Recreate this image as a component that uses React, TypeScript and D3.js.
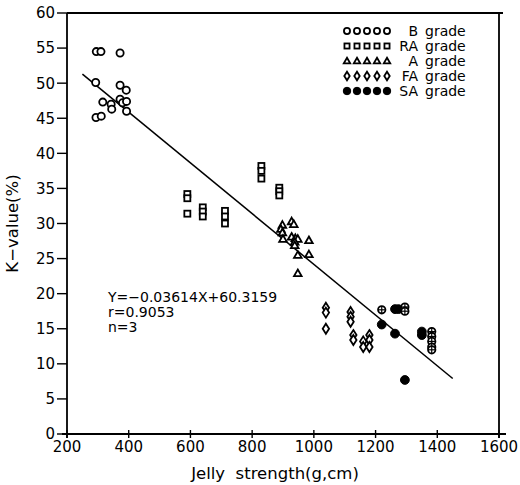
import React from "react";
import * as d3 from "d3";

const xTicks = [200, 400, 600, 800, 1000, 1200, 1400, 1600];
const yTicks = [0, 5, 10, 15, 20, 25, 30, 35, 40, 45, 50, 55, 60];

const bGrade: [number, number][] = [
  [295, 54.5], [310, 54.5], [372, 54.3], [293, 50.1], [372, 49.7], [392, 49.0],
  [316, 47.3], [343, 47.0], [345, 46.3], [372, 47.7], [380, 47.2], [393, 47.4],
  [393, 46.0], [294, 45.1], [311, 45.3],
];
const raGrade: [number, number][] = [
  [590, 34.2], [590, 33.6], [590, 31.4], [640, 32.3], [640, 31.7], [640, 31.0],
  [712, 31.8], [712, 31.0], [712, 30.0], [830, 38.2], [830, 37.5], [830, 36.4],
  [888, 35.1], [888, 34.6], [888, 34.0],
];
const aGrade: [number, number][] = [
  [928, 30.3], [935, 29.9], [898, 29.8], [893, 29.2], [898, 28.7], [928, 28.1],
  [940, 27.9], [948, 27.8], [938, 27.4], [938, 26.9], [984, 27.6], [948, 25.5],
  [984, 25.6], [948, 22.9], [900, 27.8],
];
const faGrade: [number, number][] = [
  [1039, 18.0], [1039, 17.3], [1039, 15.0], [1119, 17.4], [1119, 16.7], [1119, 16.0],
  [1128, 14.1], [1128, 13.4], [1160, 13.2], [1160, 12.4], [1180, 14.1], [1180, 13.4],
  [1180, 12.4],
];
const saGrade: [number, number][] = [
  [1263, 17.8], [1274, 17.8], [1220, 15.6], [1263, 14.3], [1350, 14.6], [1350, 14.1],
  [1295, 7.7],
];
const saCross: [number, number][] = [
  [1220, 17.7], [1295, 18.1], [1295, 17.5], [1382, 14.6], [1382, 13.9], [1382, 13.2],
  [1382, 12.4], [1382, 12.0],
];

const legendItems = [
  { name: "B", kind: "circle" },
  { name: "RA", kind: "square" },
  { name: "A", kind: "triangle" },
  { name: "FA", kind: "diamond" },
  { name: "SA", kind: "filled" },
];

const slope = -0.03614;
const intercept = 60.3159;
const lineRange = [250, 1450];
const eqLines = ["Y=\u22120.03614X+60.3159", "r=0.9053", "n=3"];

const FONT = "'DejaVu Sans', sans-serif";

function Marker({ kind, x, y, s = 1 }: { kind: string; x: number; y: number; s?: number }) {
  const sw = 1.8;
  if (kind === "circle")
    return <circle cx={x} cy={y} r={3.6 * s} fill="white" stroke="black" strokeWidth={sw} />;
  if (kind === "square") {
    const h = 3 * s;
    return <rect x={x - h} y={y - h} width={2 * h} height={2 * h} fill="white" stroke="black" strokeWidth={sw} />;
  }
  if (kind === "triangle") {
    const h = 3.8 * s;
    return (
      <path d={`M${x},${y - h}L${x + h},${y + h * 0.75}L${x - h},${y + h * 0.75}Z`} fill="white" stroke="black" strokeWidth={sw} />
    );
  }
  if (kind === "diamond") {
    const w = 3.2 * s, h = 5 * s;
    return <path d={`M${x},${y - h}L${x + w},${y}L${x},${y + h}L${x - w},${y}Z`} fill="white" stroke="black" strokeWidth={sw} />;
  }
  if (kind === "filled")
    return <circle cx={x} cy={y} r={4.4 * s} fill="black" stroke="black" strokeWidth={1} />;
  // crossed circle
  const r = 3.7 * s;
  return (
    <g>
      <circle cx={x} cy={y} r={r} fill="white" stroke="black" strokeWidth={sw} />
      <line x1={x - r} x2={x + r} y1={y} y2={y} stroke="black" strokeWidth={1.2} />
      <line x1={x} x2={x} y1={y - r} y2={y + r} stroke="black" strokeWidth={1.2} />
    </g>
  );
}

export default function App() {
  const W = 520, H = 485;
  const x = d3.scaleLinear().domain([200, 1600]).range([67, 499]);
  const y = d3.scaleLinear().domain([0, 60]).range([434, 13]);
  const series: [string, [number, number][]][] = [
    ["circle", bGrade], ["square", raGrade], ["triangle", aGrade],
    ["diamond", faGrade], ["filled", saGrade], ["cross", saCross],
  ];
  const regLine = d3.line<number>().x((v) => x(v)).y((v) => y(slope * v + intercept));
  return (
    <svg width={W} height={H} style={{ position: "absolute", left: 0, top: 0, background: "white" }} fontFamily={FONT}>
      <rect width={W} height={H} fill="white" />
      {/* frame */}
      <line x1={x(200)} x2={503} y1={y(60)} y2={y(60)} stroke="black" strokeWidth={1.8} />
      <line x1={x(1600)} x2={x(1600)} y1={y(60) - 1} y2={y(0) + 4} stroke="black" strokeWidth={1.8} />
      <line x1={x(200) - 5} x2={506} y1={y(0)} y2={y(0)} stroke="black" strokeWidth={1.8} />
      <line x1={x(200)} x2={x(200)} y1={y(60)} y2={y(0) + 4} stroke="black" strokeWidth={1.8} />
      {/* y ticks */}
      {yTicks.map((t) => (
        <g key={"y" + t}>
          <line x1={x(200) - 10} x2={x(200)} y1={y(t)} y2={y(t)} stroke="black" strokeWidth={1.4} />
          <text x={x(200) - 12} y={y(t)} dy="0.36em" textAnchor="end" fontSize={15}>{t}</text>
        </g>
      ))}
      {/* x ticks */}
      {xTicks.map((t) => (
        <g key={"x" + t}>
          <line x1={x(t)} x2={x(t)} y1={y(0) - 4} y2={y(0) + 4} stroke="black" strokeWidth={1.4} />
          <text x={x(t)} y={y(0) + 18} textAnchor="middle" fontSize={15}>{t}</text>
        </g>
      ))}
      <text x={275} y={479} textAnchor="middle" fontSize={16.5} xmlSpace="preserve">Jelly  strength(g,cm)</text>
      <text transform={`translate(18,${y(30)}) rotate(-90)`} textAnchor="middle" fontSize={16.5}>K−value(%)</text>
      {/* regression line */}
      <path d={regLine(lineRange) || ""} fill="none" stroke="black" strokeWidth={1.5} />
      {/* points */}
      {series.map(([kind, data]) =>
        data.map((d, i) => <Marker key={kind + i} kind={kind} x={x(d[0])} y={y(d[1])} />)
      )}
      {/* equation */}
      {eqLines.map((s, i) => (
        <text key={s} x={108} y={302 + i * 15} fontSize={14}>{s}</text>
      ))}
      {/* legend */}
      {legendItems.map((it, i) => {
        const cy = 31 + i * 15;
        return (
          <g key={it.name}>
            {[0, 1, 2, 3, 4].map((k) => (
              <Marker key={k} kind={it.kind} x={347 + k * 10} y={cy} s={0.85} />
            ))}
            <text x={418} y={cy} dy="0.36em" textAnchor="end" fontSize={14}>{it.name}</text>
            <text x={425} y={cy} dy="0.36em" fontSize={14}>grade</text>
          </g>
        );
      })}
    </svg>
  );
}
